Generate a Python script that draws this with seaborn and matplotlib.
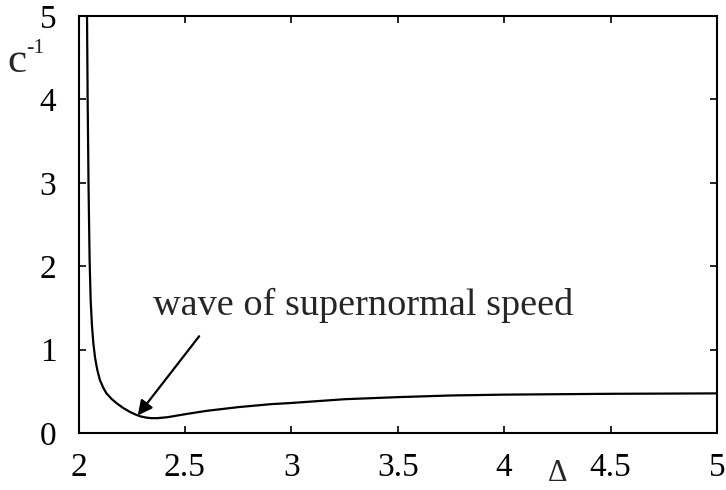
import matplotlib
matplotlib.use("Agg")
import matplotlib.pyplot as plt
import seaborn as sns
import pandas as pd

# Data
delta = [2.039, 2.040, 2.043, 2.047, 2.052, 2.057, 2.063, 2.070, 2.078, 2.088, 2.100, 2.115,
         2.130, 2.155, 2.180, 2.210, 2.240, 2.265, 2.290, 2.315, 2.340, 2.37, 2.42, 2.5,
         2.6, 2.75, 2.9, 3.0, 3.25, 3.5, 3.75, 4.0, 4.5, 5.0]
cinv = [5.3, 5.0, 4.0, 3.0, 2.1, 1.6, 1.3, 1.07, 0.9, 0.76, 0.64, 0.55,
        0.48, 0.41, 0.355, 0.30, 0.255, 0.225, 0.20, 0.186, 0.178, 0.178, 0.19, 0.225,
        0.265, 0.31, 0.345, 0.36, 0.405, 0.43, 0.45, 0.46, 0.47, 0.475]
xticks = [2, 2.5, 3, 3.5, 4, 4.5, 5]
xticklabels = ["2", "2.5", "3", "3.5", "4", "4.5", "5"]
yticks = [0, 1, 2, 3, 4, 5]
yticklabels = ["0", "1", "2", "3", "4", "5"]
annotation = "wave of supernormal speed"

df = pd.DataFrame({"delta": delta, "cinv": cinv})

sns.set_style("ticks")
plt.rcParams["font.family"] = ["Liberation Serif", "DejaVu Serif"]

fig = plt.figure(figsize=(7.26, 4.90), dpi=100)
ax = fig.add_axes([78.5 / 726, 1 - 433 / 490, (717 - 78.5) / 726, (433 - 16) / 490])

sns.lineplot(data=df, x="delta", y="cinv", sort=False, color="black", linewidth=1.6, ax=ax)

ax.set_xlim(2, 5)
ax.set_ylim(0, 5)
ax.set_xticks(xticks)
ax.set_xticklabels(xticklabels)
ax.set_yticks(yticks)
ax.set_yticklabels(yticklabels)
ax.set_xlabel("")
ax.set_ylabel("")
ax.tick_params(direction="in", length=5, width=1.2, labelsize=24, pad=14,
               top=True, right=True, colors="black")
ax.tick_params(axis="y", pad=16)
for s in ax.spines.values():
    s.set_linewidth(1.5)
    s.set_color("black")

ax.annotate("", xy=(2.278, 0.21), xytext=(2.567, 1.16),
            arrowprops=dict(arrowstyle="-|>", color="black", lw=1.6,
                            mutation_scale=22, shrinkA=0, shrinkB=0))
ax.text(2.35, 1.415, annotation, fontsize=27.5, va="baseline", ha="left")

fig.text(558 / 726, 2 / 490, "Δ", fontsize=22, ha="center", va="bottom")
fig.text(7 / 726, 1 - 72 / 490, "c", fontsize=31, ha="left", va="baseline")
fig.text(26 / 726, 1 - 53 / 490, "-1", fontsize=16, ha="left", va="baseline")

fig.savefig("out.png", dpi=100, facecolor="white")
